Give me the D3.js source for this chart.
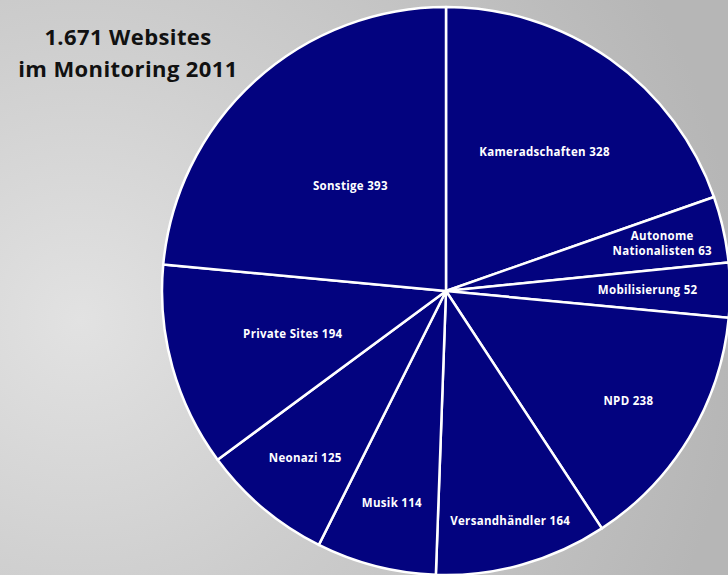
<!DOCTYPE html>
<html>
<head>
<meta charset="utf-8">
<script src="https://cdn.jsdelivr.net/npm/d3@7"></script>
<style>
  html, body { margin: 0; padding: 0; overflow: hidden; }
  svg { display: block; }
</style>
</head>
<body>
<div id="chart"></div>
<script>
const categories = ['Kameradschaften', 'Autonome Nationalisten', 'Mobilisierung', 'NPD', 'Versandhändler', 'Musik', 'Neonazi', 'Private Sites', 'Sonstige']
const values = [328, 63, 52, 238, 164, 114, 125, 194, 393]
const titleLines = ['1.671 Websites', 'im Monitoring 2011']

// label distance from the centre, as share of the radius
const labelRadius = [0.6, 0.78, 0.71, 0.75, 0.84, 0.77, 0.77, 0.56, 0.5]
// label line breaks
const labelLines = [
  ['Kameradschaften 328'],
  ['Autonome', 'Nationalisten 63'],
  ['Mobilisierung 52'],
  ['NPD 238'],
  ['Versandhändler 164'],
  ['Musik 114'],
  ['Neonazi 125'],
  ['Private Sites 194'],
  ['Sonstige 393']
]

const width = 728
const height = 575
const cx = 446
const cy = 291
const radius = 284

const data = categories.map((c, i) => ({ name: c, value: values[i], i }))

const svg = d3.select('#chart').append('svg')
  .attr('width', width)
  .attr('height', height)

const defs = svg.append('defs')
const grad = defs.append('radialGradient')
  .attr('id', 'bg')
  .attr('gradientUnits', 'userSpaceOnUse')
  .attr('cx', 80).attr('cy', 320).attr('r', 660)
grad.append('stop').attr('offset', '0%').attr('stop-color', '#e2e2e2')
grad.append('stop').attr('offset', '45%').attr('stop-color', '#cdcdcd')
grad.append('stop').attr('offset', '100%').attr('stop-color', '#b6b6b6')

svg.append('rect')
  .attr('width', width)
  .attr('height', height)
  .attr('fill', 'url(#bg)')

const pie = d3.pie()
  .value(d => d.value)
  .sort(null)

const arc = d3.arc()
  .innerRadius(0)
  .outerRadius(radius)

const g = svg.append('g')
  .attr('transform', `translate(${cx},${cy})`)

const arcs = pie(data)

g.selectAll('path')
  .data(arcs).enter()
  .append('path')
  .attr('d', arc)
  .attr('fill', '#03037f')
  .attr('stroke', '#fff')
  .attr('stroke-width', 2.5)
  .attr('stroke-linejoin', 'round')

const labels = g.selectAll('.label')
  .data(arcs).enter()
  .append('text')
  .attr('class', 'label')
  .attr('transform', d => {
    const r = radius * labelRadius[d.data.i]
    const a = (d.startAngle + d.endAngle) / 2
    return `translate(${Math.sin(a) * r},${-Math.cos(a) * r})`
  })
  .attr('text-anchor', 'middle')
  .attr('fill', '#fff')
  .attr('font-family', 'Open Sans, sans-serif')
  .attr('font-weight', 700)
  .attr('font-size', 11.5)
  .attr('letter-spacing', 0.3)

labels.each(function (d) {
  const lines = labelLines[d.data.i]
  const t = d3.select(this)
  lines.forEach((l, k) => {
    t.append('tspan')
      .attr('x', 0)
      .attr('dy', k === 0 ? `${0.35 - (lines.length - 1) * 0.6}em` : '1.3em')
      .text(l)
  })
})

svg.append('text')
  .attr('x', 128)
  .attr('y', 45)
  .attr('text-anchor', 'middle')
  .attr('font-family', 'Open Sans, sans-serif')
  .attr('font-weight', 700)
  .attr('font-size', 22)
  .attr('letter-spacing', 0.4)
  .attr('fill', '#111')
  .selectAll('tspan')
  .data(titleLines).enter()
  .append('tspan')
  .attr('x', 128)
  .attr('dy', (d, i) => i === 0 ? 0 : 32)
  .text(d => d)
</script>
</body>
</html>
